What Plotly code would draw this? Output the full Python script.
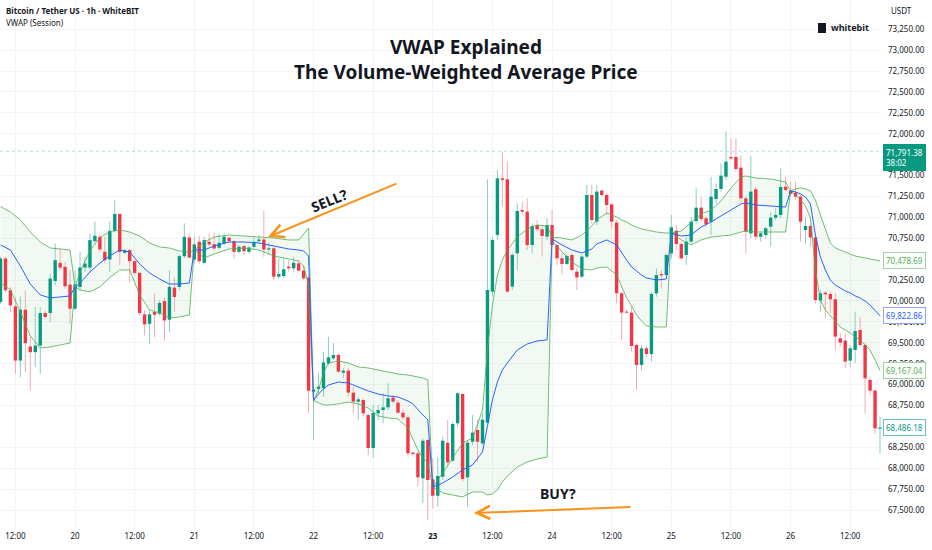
import pandas as pd
import plotly.graph_objects as go

# ---------------- data ----------------
start_time = "2024-05-19 09:00"   # first visible 1h candle (19th, 09:00)

opens = [
    69988, 70508, 70128, 69936, 69288, 69896, 69456, 69388, 69468, 69856,
    69856, 70240, 70456, 70408, 70196, 69908, 70168, 70400, 70400, 70716,
    70768, 70588, 70496, 70840, 71040, 70576, 70608, 70476, 70336, 69840,
    69728, 69868, 69848, 69999, 69776, 70160, 70168, 70536, 70760, 70496,
    70708, 70456, 70708, 70680, 70636, 70688, 70756, 70716, 70588, 70656,
    70588, 70648, 70716, 70736, 70616, 70630, 70291, 70299, 70411, 70391,
    70450, 70363, 70279, 68915, 68947, 68955, 69254, 69314, 69354, 69143,
    69167, 68904, 68796, 68816, 68636, 68242, 68656, 68696, 68728, 68844,
    68784, 68664, 68608, 68186, 68178, 67879, 68337, 67867, 67671, 67899,
    68305, 68090, 68537, 68888, 67891, 68317, 68457, 68297, 68545, 70112,
    70790, 71467, 71456, 70172, 70571, 71089, 71069, 70670, 70909, 70857,
    70770, 70909, 70670, 70511, 70443, 70550, 70351, 70291, 70531, 71268,
    70949, 71320, 71268, 71156, 70937, 70092, 69872, 69861, 69474, 69235,
    69434, 69366, 70092, 70323, 70311, 70570, 70841, 70682, 70550, 70710,
    70957, 71116, 70989, 70949, 71220, 71340, 71487, 71722, 71722, 71595,
    71228, 70809, 71336, 70769, 70789, 70889, 70997, 71029, 71367, 71319,
    71296, 71248, 70849, 70897, 70761, 70004, 70100, 70084, 70020, 69554,
    69526, 69287, 69414, 69653, 69474, 69055, 68928, 68473,
]
highs = [
    70528, 70528, 70168, 70048, 70056, 70128, 69568, 69928, 69928, 69888,
    70328, 70688, 70628, 70468, 70368, 70368, 70588, 70528, 70808, 70948,
    70808, 70768, 70948, 71210, 71048, 70616, 70628, 70488, 70348, 69888,
    69888, 70088, 70008, 70048, 70368, 70288, 70560, 70928, 70808, 70768,
    70776, 70768, 70808, 70816, 70808, 70816, 70768, 70728, 70668, 70668,
    70656, 70768, 70788, 71080, 70700, 70650, 70510, 70510, 70490, 70530,
    70490, 70431, 70291, 68975, 69135, 69394, 69573, 69494, 69374, 69195,
    69195, 68975, 68856, 68836, 68656, 68756, 68756, 68896, 69015, 68876,
    68816, 68696, 68636, 68198, 68198, 68357, 68357, 68118, 68138, 68377,
    68577, 68557, 68915, 68896, 68337, 68636, 68577, 68656, 71456, 70770,
    71567, 71786, 71667, 70571, 71168, 71188, 71228, 70929, 70969, 70909,
    70989, 71089, 70682, 70570, 70550, 70570, 70391, 70550, 71388, 71388,
    71388, 71328, 71288, 71168, 70969, 70112, 69892, 69932, 69494, 69474,
    69454, 70112, 70391, 70371, 70570, 71029, 70909, 70710, 70770, 71009,
    71347, 71248, 71009, 71487, 71407, 71646, 72025, 71946, 71946, 71738,
    71248, 71738, 71367, 70829, 70889, 71061, 71108, 71587, 71487, 71427,
    71427, 71268, 71009, 70929, 70769, 70132, 70112, 70112, 70092, 69614,
    69614, 69474, 69873, 69813, 69494, 69095, 68956, 68617,
]
lows = [
    69968, 70108, 69868, 69128, 69088, 69148, 68928, 69208, 69128, 69788,
    69748, 70188, 70368, 70148, 69728, 69888, 70128, 70348, 70348, 70688,
    70588, 70448, 70348, 70820, 70428, 70568, 70228, 70308, 69828, 69588,
    69488, 69568, 69828, 69528, 69628, 69868, 70128, 70508, 70508, 70448,
    70448, 70448, 70656, 70608, 70616, 70668, 70696, 70508, 70568, 70548,
    70568, 70628, 70688, 70528, 70560, 70251, 70271, 70271, 70351, 70351,
    70351, 70251, 68656, 68337, 68895, 68856, 69234, 69294, 69135, 69075,
    68856, 68656, 68577, 68617, 68158, 68122, 68577, 68537, 68696, 68776,
    68656, 68577, 68138, 68138, 67779, 67580, 67380, 67520, 67540, 67859,
    68018, 68078, 68497, 67839, 67540, 68278, 68078, 68278, 68537, 70052,
    70730, 71129, 70100, 70132, 70371, 71029, 70610, 70570, 70830, 70531,
    70730, 70650, 70431, 70311, 70431, 70351, 70132, 70271, 70511, 70929,
    70909, 71248, 71029, 70869, 69972, 69534, 69853, 69394, 68936, 69175,
    69334, 69274, 70052, 70152, 70291, 70510, 70610, 70491, 70431, 70690,
    70929, 70949, 70889, 70789, 71168, 71308, 71447, 71686, 71547, 71168,
    70570, 70749, 70730, 70710, 70749, 70650, 70969, 70989, 71308, 71248,
    71208, 70709, 70689, 70650, 69972, 69873, 69793, 69853, 69414, 69454,
    69195, 69215, 69255, 69454, 68657, 68876, 68417, 68178,
]
closes = [
    70508, 70128, 69948, 69288, 69896, 69496, 69388, 69468, 69856, 69808,
    70268, 70488, 70400, 70176, 69908, 70200, 70400, 70448, 70728, 70780,
    70616, 70488, 70840, 71040, 70588, 70608, 70476, 70336, 69856, 69720,
    69840, 69836, 69976, 69768, 70168, 70048, 70536, 70768, 70520, 70676,
    70476, 70728, 70676, 70628, 70696, 70768, 70716, 70588, 70648, 70596,
    70640, 70708, 70736, 70616, 70630, 70291, 70323, 70379, 70391, 70458,
    70363, 70271, 68927, 68943, 68975, 69266, 69326, 69354, 69155, 69167,
    68904, 68796, 68824, 68656, 68242, 68661, 68696, 68728, 68836, 68796,
    68664, 68608, 68178, 68170, 67891, 68329, 67859, 67671, 67907, 68329,
    68070, 68529, 68896, 67871, 68305, 68425, 68317, 68580, 70132, 70730,
    71467, 71448, 70112, 70551, 71077, 71069, 70670, 70897, 70857, 70778,
    70909, 70670, 70511, 70443, 70539, 70371, 70283, 70531, 71268, 70969,
    71308, 71268, 71148, 70949, 70092, 69861, 69861, 69462, 69235, 69434,
    69366, 70084, 70311, 70307, 70550, 70881, 70682, 70510, 70710, 70949,
    71116, 70981, 70917, 71248, 71340, 71499, 71666, 71706, 71579, 71228,
    70829, 71308, 70769, 70809, 70869, 70997, 71029, 71363, 71328, 71280,
    71248, 70949, 70897, 70761, 70012, 70092, 70080, 70020, 69574, 69502,
    69275, 69434, 69641, 69474, 69075, 68928, 68477, 68486.18,
]

# VWAP (Session) read at sampled candles (candle index from the first candle)
band_idx = [
    0, 2, 4, 6, 8, 10, 12, 14,
    15, 16, 18, 20, 22, 24, 26, 28, 30, 32, 34, 36, 38,
    39, 41, 43, 46, 49, 52, 55, 58, 60, 61, 62,
    63, 64, 65, 66, 68, 70, 72, 74, 76, 78, 80, 82, 83, 84, 85, 86,
    87, 89, 91, 93, 95, 97, 98, 99, 100, 101, 102, 104, 106, 108, 110,
    111, 113, 115, 117, 119, 120, 122, 124, 125, 126, 127, 128, 129, 130, 132, 134,
    135, 137, 139, 141, 143, 145, 147, 149, 150, 152, 155, 158,
    159, 160, 161, 162, 163, 164, 165, 166, 167, 168, 169, 170, 171, 172, 173, 174, 175, 176, 177,
]
vwap_upper = [
    71128, 71065, 70969, 70825, 70706, 70634, 70622, 70610,
    70167, 70347, 70600, 70760, 70830, 70849, 70825, 70777, 70694, 70646, 70634, 70598, 70586,
    70610, 70706, 70765, 70789, 70777, 70765, 70753, 70730, 70730, 70801, 70873,
    68810, 68936, 69139, 69259, 69282, 69259, 69211, 69199, 69175, 69151, 69127, 69115, 69103, 69091, 69079, 69055,
    67775, 67943, 68122, 68302, 68362, 68696, 69414, 69952, 70311, 70490, 70610, 70765, 70861, 70909, 70897,
    70765, 70753, 70730, 70789, 70897, 70969, 71053, 71005, 70969, 70945, 70909, 70885, 70861, 70849, 70825, 70813,
    70813, 70837, 70945, 71041, 71088, 71196, 71352, 71483, 71495, 71471, 71459, 71423,
    71318, 71340, 71352, 71340, 71316, 71208, 71029, 70849, 70694, 70634, 70610, 70586, 70562, 70538, 70526, 70514, 70502, 70490, 70478.69,
]
vwap_mid = [
    70670, 70610, 70419, 70203, 70072, 70036, 70048, 70060,
    70167, 70215, 70347, 70454, 70540, 70610, 70586, 70443, 70335, 70263, 70203, 70203, 70215,
    70610, 70610, 70658, 70706, 70706, 70694, 70658, 70622, 70610, 70598, 70538,
    68810, 68888, 68948, 68995, 69031, 69019, 68971, 68924, 68888, 68864, 68852, 68804, 68768, 68696, 68637, 68577,
    67775, 67823, 67895, 67979, 68039, 68194, 68517, 68816, 69031, 69175, 69259, 69414, 69486, 69522, 69534,
    70742, 70670, 70610, 70574, 70622, 70682, 70730, 70670, 70574, 70490, 70407, 70359, 70311, 70275, 70251, 70263,
    70813, 70777, 70789, 70885, 70945, 71017, 71088, 71160, 71172, 71148, 71136, 71124,
    71318, 71304, 71280, 71244, 71160, 70789, 70526, 70371, 70251, 70191, 70156, 70120, 70096, 70060, 70036, 70000, 69952, 69892, 69822.86,
]
vwap_lower = [
    70215, 70132, 69868, 69581, 69438, 69450, 69474, 69498,
    70167, 70132, 70110, 70170, 70280, 70371, 70371, 70072, 69892, 69857, 69797, 69809, 69833,
    70610, 70514, 70562, 70622, 70634, 70610, 70538, 70502, 70478, 70419, 70191,
    68810, 68780, 68756, 68756, 68768, 68792, 68768, 68720, 68625, 68601, 68589, 68481, 68338, 68218, 68122, 68063,
    67775, 67704, 67680, 67656, 67716, 67716, 67680, 67692, 67740, 67835, 67907, 68015, 68075, 68110, 68134,
    70718, 70586, 70467, 70383, 70371, 70395, 70407, 70311, 70167, 70036, 69940, 69833, 69761, 69701, 69689, 69689,
    70813, 70730, 70670, 70730, 70765, 70777, 70789, 70825, 70837, 70825, 70825, 70825,
    71318, 71268, 71208, 71136, 70993, 70371, 70012, 69892, 69821, 69749, 69689, 69653, 69617, 69570, 69534, 69474, 69414, 69294, 69167.04,
]

# x tick labels every 12 hours (candle index of each label)
tick_idx = [3, 15, 27, 39, 51, 63, 75, 87, 99, 111, 123, 135, 147, 159, 171]
tick_text = ["12:00", "20", "12:00", "21", "12:00", "22", "12:00", "<b>23</b>",
             "12:00", "24", "12:00", "25", "12:00", "26", "12:00"]
# price ticks every 250 (those hidden behind the price labels are left out)
y_ticks = [67500, 67750, 68000, 68250, 68750, 69000, 69250, 69500, 69750, 70000,
           70250, 70750, 71000, 71250, 71500, 72000, 72250, 72500, 72750, 73000, 73250]

last_price = 71791.38
countdown = "38:02"
label_upper, label_vwap, label_lower, label_close = 70478.69, 69822.86, 69167.04, 68486.18

# ---------------- styling ----------------
GREEN = "#089981"
RED = "#F23645"
GREEN_WICK = "#86cfc2"
RED_WICK = "#f7a8b0"
BAND = "rgba(76,175,80,0.8)"
FILL = "rgba(76,175,80,0.07)"
BLUE = "#2962FF"
ORANGE = "#F7931A"
TXT = "#131722"
FONT = "Noto Sans, Open Sans, sans-serif"

W, H = 932, 550
PL, PR, PT, PB = 0, 50, 0, 20          # plot margins
PW, PH = W - PL - PR, H - PT - PB      # plot area size


def px(x):   # paper x from pixel
    return (x - PL) / PW


def py(y):   # paper y from pixel
    return 1 - (y - PT) / PH


t = pd.date_range(start_time, periods=len(opens), freq="h")
t0 = t[0]
hour = pd.Timedelta(hours=1)
bt = [t[i] for i in band_idx]

fig = go.Figure()

# band fill (underneath the candles)
fig.add_trace(go.Scatter(x=bt, y=vwap_lower, mode="lines", line=dict(width=0, color=BAND),
                         hoverinfo="skip"))
fig.add_trace(go.Scatter(x=bt, y=vwap_upper, mode="lines", line=dict(width=0, color=BAND),
                         fill="tonexty", fillcolor=FILL, hoverinfo="skip"))

# candles: wicks then bodies
def segs(mask, a, b, minh=0.0):
    xs, ys = [], []
    for ti, va, vb, m in zip(t, a, b, mask):
        if not m:
            continue
        lo, hi = min(va, vb), max(va, vb)
        if hi - lo < minh:
            mid = (hi + lo) / 2
            lo, hi = mid - minh / 2, mid + minh / 2
        xs += [ti, ti, None]
        ys += [lo, hi, None]
    return xs, ys


up = [c >= o for o, c in zip(opens, closes)]
dn = [not u for u in up]

for mask, col in ((up, GREEN_WICK), (dn, RED_WICK)):
    xs, ys = segs(mask, lows, highs)
    fig.add_trace(go.Scatter(x=xs, y=ys, mode="lines", line=dict(color=col, width=1),
                             hoverinfo="skip"))
for mask, col in ((up, GREEN), (dn, RED)):
    xs, ys = segs(mask, opens, closes, minh=12)
    fig.add_trace(go.Scatter(x=xs, y=ys, mode="lines", line=dict(color=col, width=3.4),
                             hoverinfo="skip"))

# band and VWAP lines on top
fig.add_trace(go.Scatter(x=bt, y=vwap_upper, mode="lines", line=dict(color=BAND, width=1),
                         hoverinfo="skip"))
fig.add_trace(go.Scatter(x=bt, y=vwap_lower, mode="lines", line=dict(color=BAND, width=1),
                         hoverinfo="skip"))
fig.add_trace(go.Scatter(x=bt, y=vwap_mid, mode="lines", line=dict(color=BLUE, width=1),
                         hoverinfo="skip"))

span_hours = PW / 4.969
fig.update_layout(
    width=W, height=H,
    margin=dict(l=PL, r=PR, t=PT, b=PB, autoexpand=False),
    plot_bgcolor="white", paper_bgcolor="white",
    showlegend=False, hovermode=False,
    font=dict(family=FONT, size=8, color=TXT),
)
fig.update_xaxes(
    type="date",
    range=[t0 - 0.1 * hour, t0 + (span_hours - 0.1) * hour],
    tickvals=[t[i] for i in tick_idx], ticktext=tick_text,
    showgrid=True, gridcolor="#f3f4f7", gridwidth=1,
    zeroline=False, showline=False, ticks="",
    tickfont=dict(size=8, color=TXT, family=FONT),
    automargin=False, fixedrange=True,
)
fig.update_yaxes(
    side="right", range=[67261, 73600],
    tickvals=y_ticks, tickformat=",.2f",
    showgrid=True, gridcolor="#f3f4f7", gridwidth=1,
    zeroline=False, showline=False, ticks="",
    ticklabelstandoff=5,
    tickfont=dict(size=8, color=TXT, family=FONT),
    automargin=False, fixedrange=True,
)

# last price line
fig.add_shape(type="line", xref="paper", x0=0, x1=1, yref="y", y0=last_price, y1=last_price,
              line=dict(color="rgba(8,153,129,0.30)", width=1, dash="dot"))

ann = []
# header
ann.append(dict(text="<b>Bitcoin / Tether US · 1h · WhiteBIT</b>", x=px(4), y=py(11),
                xanchor="left", yanchor="middle", font=dict(size=8, color=TXT)))
ann.append(dict(text="VWAP (Session)", x=px(4), y=py(23),
                xanchor="left", yanchor="middle", font=dict(size=8, color=TXT)))
# title
ann.append(dict(text="<b>VWAP Explained</b>", x=px(466), y=py(47),
                xanchor="center", yanchor="middle", font=dict(size=19, color=TXT)))
ann.append(dict(text="<b>The Volume-Weighted Average Price</b>", x=px(466), y=py(72),
                xanchor="center", yanchor="middle", font=dict(size=19, color=TXT)))
# currency + logo
ann.append(dict(text="USDT", x=px(889), y=py(11), xanchor="left", yanchor="middle",
                font=dict(size=8, color=TXT)))
ann.append(dict(text="<b>whitebit</b>", x=px(829), y=py(28), xanchor="left", yanchor="middle",
                font=dict(size=9, color=TXT)))
# SELL / BUY
ann.append(dict(text="<b>SELL?</b>", x=px(329), y=py(200), xanchor="center", yanchor="middle",
                textangle=-22, font=dict(size=14, color=TXT)))
ann.append(dict(text="<b>BUY?</b>", x=px(558), y=py(493), xanchor="center", yanchor="middle",
                font=dict(size=14, color=TXT)))
ann.append(dict(text="", x=px(268), y=py(237), ax=130, ay=-54, showarrow=True,
                arrowhead=5, arrowsize=1.3, arrowwidth=2, arrowcolor=ORANGE, standoff=0))
ann.append(dict(text="", x=px(474), y=py(513), ax=158, ay=-6, showarrow=True,
                arrowhead=5, arrowsize=1.3, arrowwidth=2, arrowcolor=ORANGE, standoff=0))

for a in ann:
    a.setdefault("xref", "paper")
    a.setdefault("yref", "paper")
    a.setdefault("showarrow", False)
    if a.get("showarrow"):
        a["axref"] = "pixel"
        a["ayref"] = "pixel"
    fig.add_annotation(**a)

# right-axis price labels
def price_label(val, text, fg, bg, border, yshift=0, yanchor="middle"):
    fig.add_annotation(xref="paper", x=1, xanchor="left", xshift=1,
                       yref="y", y=val, yanchor=yanchor, yshift=yshift,
                       text=text, showarrow=False, align="left",
                       font=dict(size=8, color=fg, family=FONT),
                       bgcolor=bg, bordercolor=border, borderwidth=1, borderpad=2)


price_label(last_price, f"{last_price:,.2f}<br>{countdown}", "white", GREEN, GREEN,
            yshift=7, yanchor="top")
price_label(label_upper, f"{label_upper:,.2f}", "#4caf50", "white", "#9fd4a1")
price_label(label_vwap, f"{label_vwap:,.2f}", "#2962FF", "white", "#8fa9ff")
price_label(label_lower, f"{label_lower:,.2f}", "#4caf50", "white", "#9fd4a1")
price_label(label_close, f"{label_close:,.2f}", GREEN, "white", "#6cc3b3")

# small logo mark
fig.add_shape(type="rect", xref="paper", yref="paper", x0=px(818), x1=px(826),
              y0=py(33), y1=py(23), fillcolor=TXT, line=dict(width=0))

fig.write_html("out.html",
               config={"displayModeBar": False, "staticPlot": True},
               post_script="document.body.style.margin='0px';document.body.style.overflow='hidden';")
